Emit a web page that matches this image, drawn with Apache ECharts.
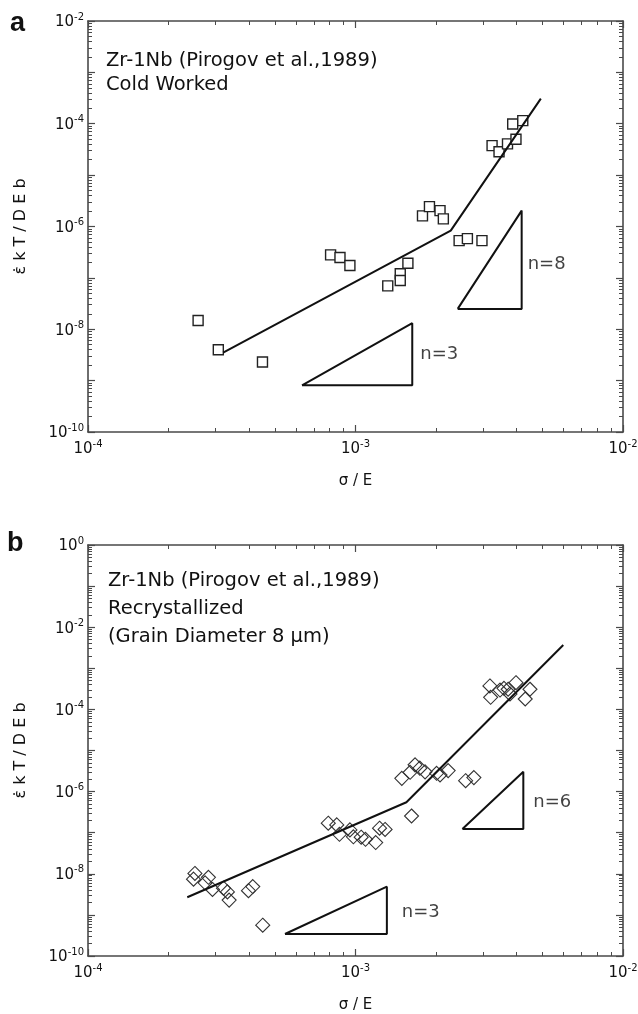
<!DOCTYPE html>
<html><head><meta charset="utf-8">
<script src="https://cdn.jsdelivr.net/npm/echarts@6/dist/echarts.min.js"></script>
<style>html,body{margin:0;padding:0;background:#fff}#c{width:638px;height:1014px}</style>
</head><body><div id="c"></div>
<script>
// ---------- Panel a : Cold Worked ----------
const aSigma = [2.58e-4,3.07e-4,4.49e-4,8.07e-4,8.75e-4,9.53e-4,1.32e-3,1.47e-3,1.47e-3,1.57e-3,1.78e-3,1.89e-3,2.07e-3,2.13e-3,2.44e-3,2.62e-3,2.97e-3,3.24e-3,3.44e-3,3.70e-3,3.98e-3,3.87e-3,4.22e-3];
const aRate  = [1.48e-8,4.0e-9,2.3e-9,2.8e-7,2.5e-7,1.74e-7,7.0e-8,1.2e-7,8.9e-8,1.93e-7,1.61e-6,2.44e-6,2.04e-6,1.41e-6,5.3e-7,5.8e-7,5.3e-7,3.75e-5,2.86e-5,4.05e-5,5.0e-5,9.9e-5,1.15e-4];
const aFitSigma = [3.2e-4, 2.27e-3, 4.93e-3];
const aFitRate  = [3.52e-9, 8.3e-7, 3.09e-4];
const aTri3Sigma = [6.31e-4, 1.63e-3, 1.63e-3, 6.31e-4];
const aTri3Rate  = [8.11e-10, 1.315e-8, 8.11e-10, 8.11e-10];
const aTri8Sigma = [2.41e-3, 4.18e-3, 4.18e-3, 2.41e-3];
const aTri8Rate  = [2.49e-8, 2.04e-6, 2.49e-8, 2.49e-8];
const aNotes = ["n=3", "n=8"];
const aNoteSigma = [1.63e-3, 4.18e-3];
const aNoteRate  = [3.32e-9, 1.87e-7];

// ---------- Panel b : Recrystallized ----------
const bSigma = [3.18e-3,3.20e-3,3.47e-3,3.59e-3,3.72e-3,3.98e-3,4.49e-3,4.31e-3,3.78e-3,
  1.49e-3,1.60e-3,1.67e-3,1.74e-3,1.82e-3,2.01e-3,2.07e-3,2.22e-3,2.58e-3,2.77e-3,1.62e-3,
  7.91e-4,8.51e-4,8.71e-4,9.53e-4,9.82e-4,1.05e-3,1.09e-3,1.19e-3,1.23e-3,1.29e-3,
  2.51e-4,2.48e-4,2.74e-4,2.82e-4,2.92e-4,3.21e-4,3.32e-4,3.37e-4,3.98e-4,4.13e-4,4.50e-4];
const bRate = [3.72e-4,1.97e-4,2.96e-4,3.26e-4,3.09e-4,4.47e-4,3.09e-4,1.79e-4,2.37e-4,
  2.10e-6,2.95e-6,4.47e-6,3.72e-6,3.02e-6,2.79e-6,2.54e-6,3.24e-6,1.84e-6,2.19e-6,2.55e-7,
  1.70e-7,1.55e-7,9.12e-8,1.17e-7,7.94e-8,7.76e-8,6.92e-8,5.75e-8,1.29e-7,1.20e-7,
  1.02e-8,7.41e-9,6.03e-9,8.22e-9,4.17e-9,4.47e-9,3.63e-9,2.29e-9,3.89e-9,4.90e-9,5.62e-10];
const bFitSigma = [2.35e-4, 1.55e-3, 5.98e-3];
const bFitRate  = [2.69e-9, 5.50e-7, 3.69e-3];
const bTri3Sigma = [5.45e-4, 1.31e-3, 1.31e-3, 5.45e-4];
const bTri3Rate  = [3.43e-10, 4.85e-9, 3.43e-10, 3.43e-10];
const bTri6Sigma = [2.51e-3, 4.24e-3, 4.24e-3, 2.51e-3];
const bTri6Rate  = [1.23e-7, 3.05e-6, 1.23e-7, 1.23e-7];
const bNotes = ["n=3", "n=6"];
const bNoteSigma = [1.31e-3, 4.24e-3];
const bNoteRate  = [1.17e-9, 5.58e-7];

// ---------- Axes ----------
const xExpRange = [-4, -2];
const xLabelExps = [-4, -3, -2];
const aYExpRange = [-10, -2];
const aYLabelExps = [-10, -8, -6, -4, -2];
const bYExpRange = [-10, 0];
const bYLabelExps = [-10, -8, -6, -4, -2, 0];
const xTitle = "σ / E";
const yTitle = "ε̇ k T / D E b";
const aText = ["Zr-1Nb (Pirogov et al.,1989)", "Cold Worked"];
const bText = ["Zr-1Nb (Pirogov et al.,1989)", "Recrystallized", "(Grain Diameter 8 μm)"];

const FONT = "DejaVu Sans";
const AX = "#4a4a4a";
const p10 = e => Number(Math.pow(10, e).toPrecision(12));
function majors(r){ const o=[]; for(let e=r[0];e<=r[1];e++) o.push(p10(e)); return o; }
function minors(r){ const o=[]; for(let e=r[0];e<r[1];e++) for(let k=2;k<=9;k++) o.push(Number((k*Math.pow(10,e)).toPrecision(12))); return o; }
const zip = (xs, ys) => xs.map((x,i)=>[x, ys[i]]);

const rich = {
  b: {fontFamily: FONT, fontSize: 15, color: '#111', verticalAlign: 'bottom'},
  s: {fontFamily: FONT, fontSize: 10, color: '#111', verticalAlign: 'bottom', padding: [0,0,8,0]}
};
const fmt = v => '{b|10}{s|' + Math.round(Math.log10(v)) + '}';

function axisSet(dim, grid, r, labelExps, name, nameGap){
  const base = {type:'log', logBase:10, gridIndex:grid, min:p10(r[0]), max:p10(r[1]), splitLine:{show:false}, minorTick:{show:false}, minorSplitLine:{show:false}};
  const posA = dim==='x' ? 'bottom' : 'left';
  const posB = dim==='x' ? 'top' : 'right';
  const line = {show:true, onZero:false, lineStyle:{color:AX, width:1.6}};
  const noLine = {show:false, onZero:false};
  const majTick = {show:true, inside:true, length:7, customValues:majors(r), lineStyle:{color:AX, width:1.2}};
  const minTick = {show:true, inside:true, length:4, customValues:minors(r), lineStyle:{color:AX, width:1}};
  return [
    Object.assign({}, base, {position:posA, axisLine:line, axisTick:majTick,
      axisLabel:{show:true, customValues:labelExps.map(p10), formatter:fmt, rich, margin: dim==='x'?7:4},
      name, nameLocation:'middle', nameGap,
      nameTextStyle:{fontFamily:FONT, fontSize: dim==='x'?15:16, color:'#111'}}),
    Object.assign({}, base, {position:posB, axisLine:line, axisTick:majTick, axisLabel:{show:false}}),
    Object.assign({}, base, {position:posA, axisLine:noLine, axisTick:minTick, axisLabel:{show:false}}),
    Object.assign({}, base, {position:posB, axisLine:noLine, axisTick:minTick, axisLabel:{show:false}})
  ];
}

const xAxes = axisSet('x', 0, xExpRange, xLabelExps, xTitle, 42).concat(axisSet('x', 1, xExpRange, xLabelExps, xTitle, 42));
const yAxes = axisSet('y', 0, aYExpRange, aYLabelExps, yTitle, 59).concat(axisSet('y', 1, bYExpRange, bYLabelExps, yTitle, 59));

function lineSeries(xi, yi, xs, ys){
  return {type:'line', xAxisIndex:xi, yAxisIndex:yi, data:zip(xs, ys), showSymbol:false, symbol:'none',
    lineStyle:{color:'#111', width:2}, silent:true, z:3, animation:false};
}
function noteSeries(xi, yi, xs, ys, texts, dist){
  return {type:'scatter', xAxisIndex:xi, yAxisIndex:yi, symbolSize:0, silent:true, animation:false,
    data: xs.map((x,i)=>({value:[x, ys[i]], label:{show:true, position:'right', distance:dist[i], formatter:texts[i],
      fontFamily:FONT, fontSize:18, color:'#111'}}))};
}

const series = [
  {type:'scatter', xAxisIndex:0, yAxisIndex:0, data:zip(aSigma, aRate), symbol:'rect', symbolSize:10,
   itemStyle:{color:'#fff', borderColor:'#222', borderWidth:1.4, opacity:1}, z:2, animation:false},
  lineSeries(0,0,aFitSigma,aFitRate),
  lineSeries(0,0,aTri3Sigma,aTri3Rate),
  lineSeries(0,0,aTri8Sigma,aTri8Rate),
  noteSeries(0,0,aNoteSigma,aNoteRate,aNotes,[8,6]),
  {type:'scatter', xAxisIndex:4, yAxisIndex:4, data:zip(bSigma, bRate), symbol:'diamond', symbolSize:14,
   itemStyle:{color:'rgba(255,255,255,0)', borderColor:'#333', borderWidth:1.1, opacity:1}, z:2, animation:false},
  lineSeries(4,4,bFitSigma,bFitRate),
  lineSeries(4,4,bTri3Sigma,bTri3Rate),
  lineSeries(4,4,bTri6Sigma,bTri6Rate),
  noteSeries(4,4,bNoteSigma,bNoteRate,bNotes,[15,10])
];

const txt = (x, y, t, size, bold) => ({type:'text', left:x, top:y, silent:true,
  style:{text:t, fontFamily: bold ? 'Liberation Sans' : FONT, fontSize:size, fontWeight: bold?'bold':'normal', fill:'#111', verticalAlign:'middle'}});

const graphic = [
  txt(10, 10, 'a', 27, true),
  txt(7, 530, 'b', 27, true),
  txt(106, 51, aText[0], 19.5),
  txt(106, 75, aText[1], 19.5),
  txt(108, 571, bText[0], 19.5),
  txt(108, 599, bText[1], 19.5),
  txt(108, 627, bText[2], 19.5)
];

const option = {
  backgroundColor:'#fff',
  animation:false,
  grid:[
    {left:88, top:21, width:535, height:411, outerBoundsMode:'none', containLabel:false},
    {left:88, top:545, width:535, height:411, outerBoundsMode:'none', containLabel:false}
  ],
  xAxis: xAxes,
  yAxis: yAxes,
  series,
  graphic
};
const chart = echarts.init(document.getElementById('c'), null, {renderer:'canvas'});
chart.setOption(option);
</script></body></html>
